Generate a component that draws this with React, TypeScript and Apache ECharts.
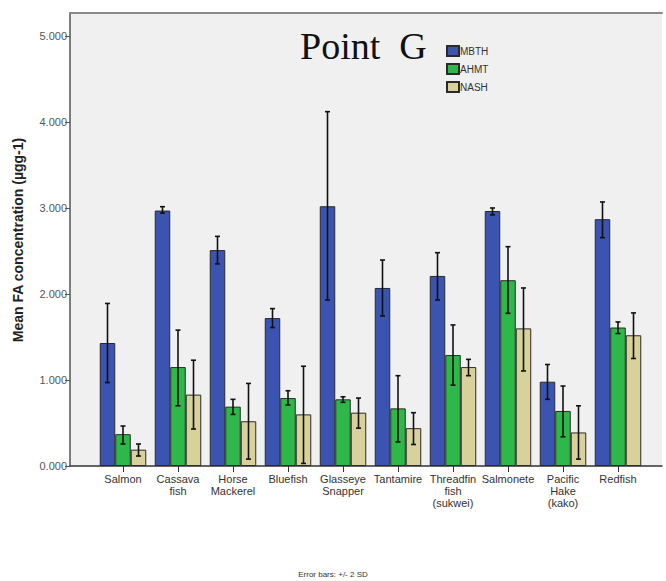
import React, { useEffect, useRef } from "react";
import * as echarts from "echarts";

const categories = [
  "Salmon",
  "Cassava\nfish",
  "Horse\nMackerel",
  "Bluefish",
  "Glasseye\nSnapper",
  "Tantamire",
  "Threadfin\nfish\n(sukwei)",
  "Salmonete",
  "Pacific\nHake\n(kako)",
  "Redfish",
];

const seriesNames = ["MBTH", "AHMT", "NASH"];

const mbthMean = [1.43, 2.97, 2.51, 1.72, 3.02, 2.07, 2.21, 2.965, 0.98, 2.87];
const mbthLow = [0.97, 2.94, 2.35, 1.61, 1.93, 1.745, 1.93, 2.92, 0.775, 2.655];
const mbthHigh = [1.89, 3.015, 2.67, 1.83, 4.12, 2.395, 2.48, 3.0, 1.18, 3.07];

const ahmtMean = [0.37, 1.15, 0.69, 0.79, 0.775, 0.67, 1.29, 2.16, 0.64, 1.61];
const ahmtLow = [0.256, 0.7, 0.6, 0.71, 0.74, 0.28, 0.94, 1.775, 0.34, 1.54];
const ahmtHigh = [0.465, 1.58, 0.775, 0.875, 0.805, 1.05, 1.64, 2.55, 0.93, 1.675];

const nashMean = [0.19, 0.83, 0.52, 0.6, 0.62, 0.44, 1.15, 1.6, 0.39, 1.52];
const nashLow = [0.116, 0.43, 0.08, 0.03, 0.44, 0.25, 1.05, 1.105, 0.08, 1.25];
const nashHigh = [0.256, 1.23, 0.96, 1.16, 0.79, 0.62, 1.24, 2.07, 0.7, 1.78];

const yTicks = [0, 1, 2, 3, 4, 5];

const colors = ["#3b54b2", "#2fb84a", "#d9d19b"];

export default function App() {
  const ref = useRef<HTMLDivElement>(null);
  useEffect(() => {
    if (!ref.current) return;
    const chart = echarts.init(ref.current, undefined, { renderer: "svg" });
    const means = [mbthMean, ahmtMean, nashMean];
    const lows = [mbthLow, ahmtLow, nashLow];
    const highs = [mbthHigh, ahmtHigh, nashHigh];
    const barW = 15.5;
    const yMax = 5.267;

    const barSeries = seriesNames.map((name, s) => ({
      name,
      type: "bar",
      xAxisIndex: 1,
      yAxisIndex: 1,
      barWidth: barW,
      barGap: "0%",
      itemStyle: { color: colors[s], borderColor: "#2a2a2a", borderWidth: 1 },
      data: means[s],
    }));

    const errSeries = seriesNames.map((name, s) => ({
      name: name + " err",
      type: "custom",
      xAxisIndex: 1,
      yAxisIndex: 1,
      z: 10,
      data: categories.map((_, i) => [i, lows[s][i], highs[s][i]]),
      renderItem: (params: any, api: any) => {
        const i = api.value(0);
        const lo = api.coord([i, api.value(1)]);
        const hi = api.coord([i, api.value(2)]);
        const x = lo[0] + (s - 1) * barW;
        const cap = 2.5;
        const st = { stroke: "#111", lineWidth: 1.6 };
        return {
          type: "group",
          children: [
            { type: "line", shape: { x1: x, y1: lo[1], x2: x, y2: hi[1] }, style: st },
            { type: "line", shape: { x1: x - cap, y1: lo[1], x2: x + cap, y2: lo[1] }, style: st },
            { type: "line", shape: { x1: x - cap, y1: hi[1], x2: x + cap, y2: hi[1] }, style: st },
          ],
        };
      },
    }));

    chart.setOption({
      animation: false,
      backgroundColor: "#ffffff",
      textStyle: { fontFamily: "Arial, 'Liberation Sans', sans-serif" },
      grid: [
        { left: 70, top: 13, right: 4, bottom: 115, show: true, backgroundColor: "#f0f0f0", borderWidth: 0 },
        { left: 95.5, top: 13, width: 550, bottom: 115 },
      ],
      legend: {
        data: seriesNames,
        orient: "vertical",
        left: 441,
        top: 40,
        itemWidth: 12,
        itemHeight: 10,
        itemGap: 6,
        icon: "rect",
        textStyle: { fontSize: 10, color: "#333", padding: [0, 0, 0, -4] },
      },
      xAxis: [
        {
          gridIndex: 0,
          type: "value",
          min: 0,
          max: 1,
          axisLine: { show: true, lineStyle: { color: "#333", width: 1.5 } },
          axisTick: { show: false },
          axisLabel: { show: false },
          splitLine: { show: false },
        },
        {
          gridIndex: 1,
          type: "category",
          data: categories,
          axisLine: { show: false },
          axisTick: { show: true, alignWithLabel: true, length: 6, lineStyle: { color: "#333" } },
          axisLabel: { interval: 0, fontSize: 11, color: "#333", lineHeight: 12, margin: 7 },
        },
        {
          gridIndex: 0,
          type: "value",
          position: "top",
          min: 0,
          max: 1,
          axisLine: { show: true, lineStyle: { color: "#8a8a8a", width: 2 } },
          axisTick: { show: false },
          axisLabel: { show: false },
          splitLine: { show: false },
        },
      ],
      yAxis: [
        {
          gridIndex: 0,
          type: "value",
          min: 0,
          max: yMax,
          interval: 1,
          axisLine: { show: true, lineStyle: { color: "#555", width: 1.5 } },
          axisTick: { show: true, length: 5, lineStyle: { color: "#555" }, customValues: yTicks },
          axisLabel: {
            fontSize: 11,
            color: "#555",
            margin: 3,
            customValues: yTicks,
            formatter: (v: number) => v.toFixed(3),
          },
          splitLine: { show: false },
        },
        {
          gridIndex: 1,
          type: "value",
          min: 0,
          max: yMax,
          show: false,
          splitLine: { show: false },
        },
      ],
      graphic: [
        {
          type: "text",
          x: 300,
          y: 65,
          style: {
            text: "Point  G",
            font: "38px 'Times New Roman', 'Liberation Serif', serif",
            fill: "#111",
            textVerticalAlign: "bottom",
          },
        },
        {
          type: "text",
          x: 18,
          y: 240,
          rotation: Math.PI / 2,
          style: {
            text: "Mean FA concentration (µgg-1)",
            font: "bold 14px Arial, 'Liberation Sans', sans-serif",
            fill: "#222",
            textAlign: "center",
            textVerticalAlign: "middle",
          },
        },
        {
          type: "text",
          x: 333,
          y: 574,
          style: {
            text: "Error bars: +/- 2 SD",
            font: "8px Arial, 'Liberation Sans', sans-serif",
            fill: "#333",
            textAlign: "center",
            textVerticalAlign: "middle",
          },
        },
      ],
      series: [...barSeries, ...errSeries],
    });
    return () => chart.dispose();
  }, []);
  return <div ref={ref} style={{ position: "fixed", left: 0, top: 0, width: 666, height: 581 }} />;
}
